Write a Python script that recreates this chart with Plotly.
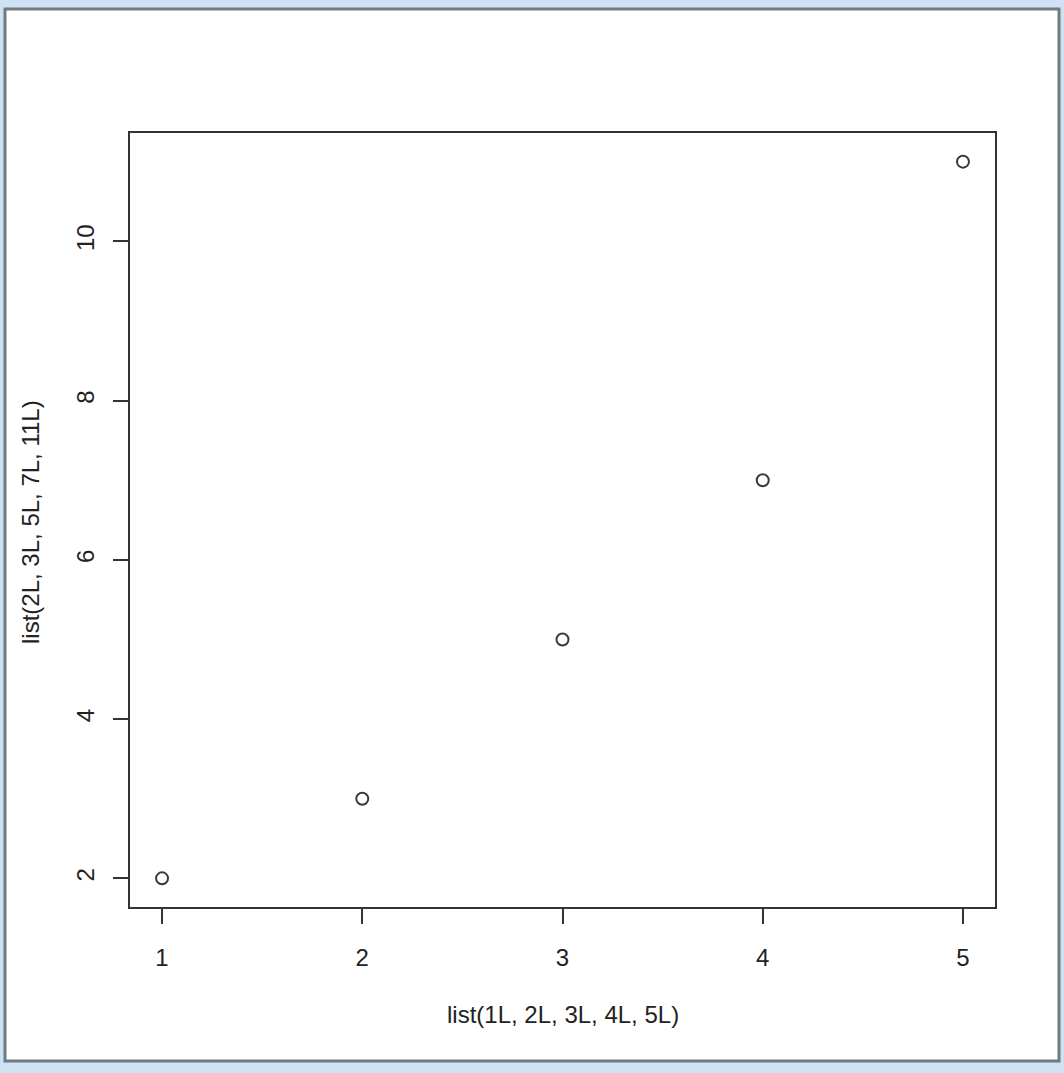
import plotly.graph_objects as go

x_values = [1, 2, 3, 4, 5]
y_values = [2, 3, 5, 7, 11]
x_ticks = [1, 2, 3, 4, 5]
y_ticks = [2, 4, 6, 8, 10]
x_label = "list(1L, 2L, 3L, 4L, 5L)"
y_label = "list(2L, 3L, 5L, 7L, 11L)"

W, H = 1064, 1073
L, R, T, B = 130, 995, 133, 907
pw, ph = R - L, B - T

def px(x):
    return (x - L) / pw

def py(y):
    return (B - y) / ph

FONT = "Liberation Sans, Arial, Helvetica, sans-serif"

fig = go.Figure()
fig.add_trace(go.Scatter(
    x=x_values, y=y_values, mode="markers",
    marker=dict(symbol="circle-open", size=12, color="#3a3a3a",
                line=dict(width=2, color="#3a3a3a")),
    showlegend=False, hoverinfo="x+y",
))

axis_common = dict(
    showgrid=False, zeroline=False, showline=True, mirror=True,
    linecolor="#333333", linewidth=1.6,
    ticks="outside", ticklen=15, tickwidth=1.6, tickcolor="#333333",
    tickfont=dict(family=FONT, size=24, color="#222222"),
)

fig.update_xaxes(range=[0.84, 5.16], tickmode="array", tickvals=x_ticks,
                 ticktext=[str(v) for v in x_ticks], ticklabelstandoff=13,
                 **axis_common)
fig.update_yaxes(range=[1.64, 11.36], tickmode="array", tickvals=y_ticks,
                 ticktext=[str(v) for v in y_ticks], tickangle=-90,
                 ticklabelstandoff=10, **axis_common)

shapes = [
    dict(type="rect", xref="paper", yref="paper", layer="below",
         x0=px(5), x1=px(1059), y0=py(1061), y1=py(9),
         fillcolor="white", line=dict(color="#717a82", width=3)),
]
fig.update_layout(
    width=W, height=H,
    margin=dict(l=L, r=W - R, t=T, b=H - B, pad=0),
    paper_bgcolor="#cfe2f4", plot_bgcolor="rgba(0,0,0,0)",
    shapes=shapes,
    annotations=[
        dict(text=x_label, xref="paper", yref="paper", x=0.5, y=py(1014),
             xanchor="center", yanchor="middle", showarrow=False,
             font=dict(family=FONT, size=24, color="#222222")),
        dict(text=y_label, xref="paper", yref="paper", x=px(30), y=py(522),
             xanchor="center", yanchor="middle", textangle=-90, showarrow=False,
             font=dict(family=FONT, size=24, color="#222222")),
    ],
)

fig.write_html("out.html")
